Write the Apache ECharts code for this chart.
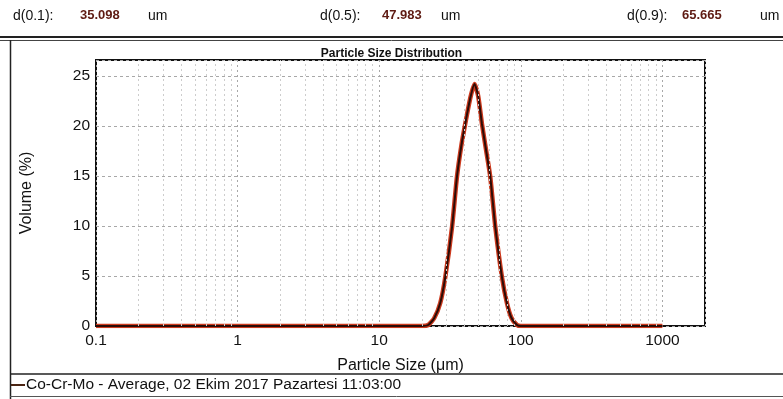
<!DOCTYPE html>
<html>
<head>
<meta charset="utf-8">
<script src="https://cdn.jsdelivr.net/npm/echarts@6/dist/echarts.min.js"></script>
<style>
  html, body { margin: 0; padding: 0; background: #fff; }
  #chart { width: 783px; height: 399px; }
</style>
</head>
<body>
<div id="chart"></div>
<script>
// particle size (um) and volume (%)
var sizes = [0.1, 1, 10, 20, 22.2, 24.5, 27.0, 29.3, 32.7, 35.4, 38, 40.5, 44, 47.1, 50, 53.2, 57, 60.9, 66.1, 73.6, 79.8, 86, 94, 100, 1000];
var volume = [0, 0, 0, 0, 0.1, 0.8, 2.3, 4.9, 9.9, 14.9, 18, 20.2, 22.8, 24.2, 23, 20.2, 17.5, 14.9, 9.9, 4.9, 2.3, 0.8, 0.1, 0, 0];

var xTicks = [0.1, 1, 10, 100, 1000];
var yTicks = [0, 5, 10, 15, 20, 25];

// d(0.1), d(0.5), d(0.9)
var dLabels = ['d(0.1):', 'd(0.5):', 'd(0.9):'];
var dValues = ['35.098', '47.983', '65.665'];
var legendText = 'Co-Cr-Mo - Average, 02 Ekim 2017 Pazartesi 11:03:00';

var FONT = '"Liberation Sans", Arial, sans-serif';

// minor log grid lines 2..9 per decade
var minorLines = [];
[0.1, 1, 10, 100, 1000].forEach(function (d) {
    for (var k = 2; k <= 9; k++) {
        if (d * k <= 2000) minorLines.push({ xAxis: +(d * k).toPrecision(3) });
    }
});

var lineData = sizes.map(function (s, i) { return [s, volume[i]]; });

var myChart = echarts.init(document.getElementById('chart'));

var dX = [[13, 80, 148], [320, 382, 441], [627, 682, 760]];
var header = [];
dLabels.forEach(function (lab, i) {
    header.push({ type: 'text', left: dX[i][0], top: 9, style: { text: lab, font: '14px ' + FONT, fill: '#111' } });
    header.push({ type: 'text', left: dX[i][1], top: 9, style: { text: dValues[i], font: 'bold 13px ' + FONT, fill: '#5e1a12' } });
    header.push({ type: 'text', left: dX[i][2], top: 9, style: { text: 'um', font: '14px ' + FONT, fill: '#111' } });
});

myChart.setOption({
    animation: false,
    backgroundColor: '#fff',
    grid: {
        left: 96, right: 78, top: 60, bottom: 73,
        show: true, borderColor: '#111', borderWidth: 2, backgroundColor: '#fff'
    },
    xAxis: {
        type: 'log',
        logBase: 10,
        min: 0.1,
        max: 2000,
        name: 'Particle Size (\u03bcm)',
        nameLocation: 'middle',
        nameGap: 32,
        nameTextStyle: { fontFamily: FONT, fontSize: 16, color: '#111' },
        axisLine: { show: false },
        axisTick: { show: false },
        splitLine: { show: true, lineStyle: { color: '#a8a8a8', type: [2, 3], width: 1 } },
        axisLabel: {
            margin: 7,
            fontFamily: FONT, fontSize: 15.5, color: '#111',
            formatter: function (v) {
                for (var i = 0; i < xTicks.length; i++) {
                    if (Math.abs(v - xTicks[i]) / xTicks[i] < 1e-6) return String(xTicks[i]);
                }
                return '';
            }
        }
    },
    yAxis: {
        type: 'value',
        min: 0,
        max: 26.6,
        interval: 5,
        name: 'Volume (%)',
        nameLocation: 'middle',
        nameGap: 61,
        nameTextStyle: { fontFamily: FONT, fontSize: 16, color: '#111' },
        axisLine: { show: false },
        axisTick: { show: false },
        splitLine: { show: true, lineStyle: { color: '#a8a8a8', type: [3, 3], width: 1 } },
        axisLabel: {
            margin: 6,
            fontFamily: FONT, fontSize: 15.5, color: '#111',
            formatter: function (v) { return yTicks.indexOf(v) >= 0 ? String(v) : ''; }
        }
    },
    series: [
        {
            type: 'line',
            data: lineData,
            showSymbol: false,
            smooth: 0.2,
            lineStyle: { color: '#cc3a1e', width: 4.5 },
            z: 3,
            markLine: {
                silent: true,
                symbol: 'none',
                label: { show: false },
                lineStyle: { color: '#cdcdcd', type: [2, 3], width: 1 },
                data: minorLines
            }
        },
        {
            type: 'line',
            data: lineData,
            showSymbol: false,
            smooth: 0.2,
            lineStyle: { color: '#2b0c07', width: 2 },
            z: 4
        }
    ],
    graphic: header.concat([
        { type: 'line', shape: { x1: 0, y1: 37, x2: 783, y2: 37 }, style: { stroke: '#222', lineWidth: 2 } },
        { type: 'line', shape: { x1: 0, y1: 40.5, x2: 783, y2: 40.5 }, style: { stroke: '#444', lineWidth: 1 } },
        { type: 'line', shape: { x1: 10.5, y1: 40, x2: 10.5, y2: 399 }, style: { stroke: '#222', lineWidth: 1.5 } },
        { type: 'line', shape: { x1: 10, y1: 374, x2: 783, y2: 374 }, style: { stroke: '#222', lineWidth: 1.5 } },
        { type: 'line', shape: { x1: 10, y1: 396.5, x2: 783, y2: 396.5 }, style: { stroke: '#555', lineWidth: 1 } },
        {
            type: 'text', left: 'center', top: 48,
            style: { text: 'Particle Size Distribution', font: 'bold 12px ' + FONT, fill: '#111' }
        },
        { type: 'line', shape: { x1: 11, y1: 385, x2: 25, y2: 385 }, style: { stroke: '#4a2412', lineWidth: 2 } },
        {
            type: 'text', left: 26, top: 377,
            style: { text: legendText, font: '15.5px ' + FONT, fill: '#111' }
        }
    ])
});
</script>
</body>
</html>
